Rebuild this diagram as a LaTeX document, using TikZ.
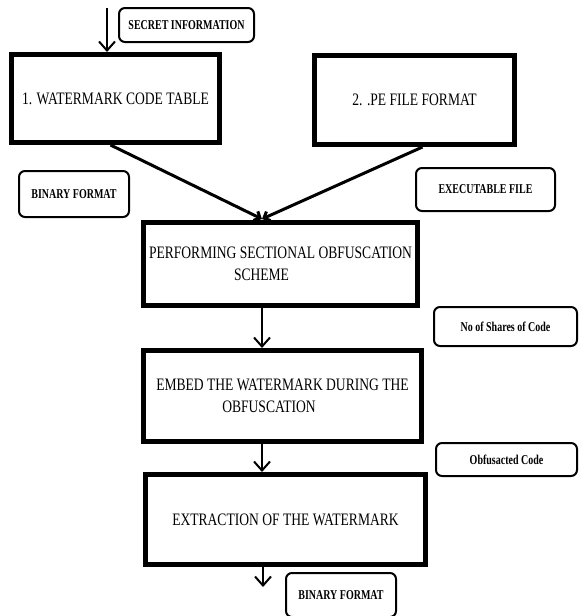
\documentclass[tikz,border=0pt]{standalone}
\usepackage{fontspec}
\usetikzlibrary{arrows.meta}
\newfontfamily\boxfont[FakeStretch=0.775]{Liberation Serif}
\newfontfamily\tagfont[FakeStretch=0.74]{Liberation Serif}

\begin{document}
\begin{tikzpicture}[
		x=1pt, y=-1pt,
		stage/.style={draw, line width=5pt, inner sep=0pt,
			font=\boxfont\fontsize{17.5}{22}\selectfont},
		tag/.style={draw, line width=2pt, rounded corners=6pt, inner sep=0pt,
			font=\tagfont\bfseries\fontsize{13.5}{16}\selectfont},
		flow/.style={line width=2pt, -{Straight Barb[length=9pt,width=16pt]}}
	]
	\useasboundingbox (0,0) rectangle (580,616);
	\clip (0,0) rectangle (580,616);

	% main stages
	\node[stage, minimum width=208, minimum height=88] (b1) at (115.5,98.5) {1. WATERMARK CODE TABLE};
	\node[stage, minimum width=200, minimum height=89] (b2) at (414.5,100) {2. .PE FILE FORMAT};
	\node[stage, minimum width=274, minimum height=83, align=left] (b3) at (280.5,264)
		{PERFORMING SECTIONAL OBFUSCATION\\\hspace*{85pt}SCHEME};
	\node[stage, minimum width=278, minimum height=91, align=left] (b4) at (282.5,396)
		{EMBED THE WATERMARK DURING THE\\\hspace*{66pt}OBFUSCATION};
	\node[stage, minimum width=280, minimum height=90] (b5) at (285.5,519.5) {EXTRACTION OF THE WATERMARK};

	% side labels
	\node[tag, minimum width=135, minimum height=34] (t1) at (186.5,25) {SECRET INFORMATION};
	\node[tag, minimum width=110, minimum height=46] (t2) at (74,194) {BINARY FORMAT};
	\node[tag, minimum width=139, minimum height=43] (t3) at (485.5,189.5) {EXECUTABLE FILE};
	\node[tag, minimum width=143, minimum height=39] (t4) at (505.5,326.5) {No of Shares of Code};
	\node[tag, minimum width=141, minimum height=33] (t5) at (506.5,459.5) {Obfusacted Code};
	\node[tag, minimum width=110, minimum height=44] (t6) at (341,595) {BINARY FORMAT};

	\coordinate (in) at (107,8);
	\coordinate (join) at (262,219);
	\coordinate (out) at (263,587);

	\draw[flow] (in) -- (in |- b1.north);
	\draw[line width=3pt, -{Straight Barb[length=5pt,width=10pt]}] ([xshift=-5]b1.south) -- (join);
	\draw[line width=3pt, -{Straight Barb[length=5pt,width=10pt]}] ([xshift=8]b2.south) -- (join);

	\foreach \from/\to in {
		b3/b4,
		b4/b5}
		\draw[flow] (\from.south -| join) -- (\to.north -| join);

	\draw[flow] (b5.south -| out) -- (out);

\end{tikzpicture}
\end{document}
